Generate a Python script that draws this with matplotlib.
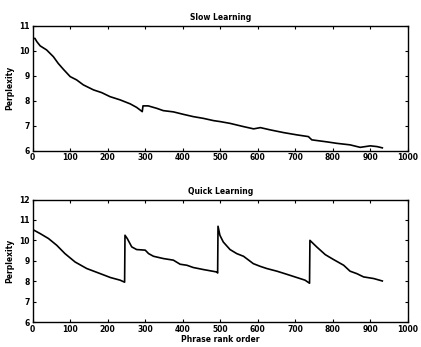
import numpy as np
import matplotlib
matplotlib.use('Agg')
import matplotlib.pyplot as plt

# Slow learning curve (phrase rank order, perplexity)
slow_x = [0, 6, 11, 20, 37, 55, 68, 82, 100, 117, 135, 162, 184, 206, 233, 260,
          277, 292, 294, 308, 331, 348, 375, 402, 428, 455, 482, 500, 526, 562,
          589, 607, 633, 669, 704, 735, 744, 784, 811, 846, 873, 900, 918, 932]
slow_y = [10.49, 10.49, 10.36, 10.19, 10.03, 9.76, 9.49, 9.25, 8.96, 8.83, 8.63,
          8.43, 8.32, 8.16, 8.03, 7.87, 7.73, 7.56, 7.79, 7.79, 7.69, 7.60, 7.55,
          7.45, 7.36, 7.29, 7.20, 7.16, 7.09, 6.96, 6.87, 6.92, 6.83, 6.72, 6.63,
          6.56, 6.43, 6.35, 6.29, 6.23, 6.13, 6.19, 6.16, 6.11]

# Quick learning curve
quick_x = [0, 20, 42, 64, 86, 113, 144, 180, 207, 233, 245, 246, 252, 264, 277,
           300, 309, 322, 348, 375, 393, 411, 428, 455, 491, 493, 494, 499, 508,
           526, 544, 562, 588, 606, 624, 651, 677, 704, 726, 738, 739, 757, 780,
           802, 829, 846, 864, 882, 909, 932]
quick_y = [10.53, 10.33, 10.09, 9.76, 9.35, 8.94, 8.62, 8.37, 8.18, 8.05, 7.95,
           10.25, 10.09, 9.68, 9.55, 9.52, 9.35, 9.22, 9.11, 9.03, 8.83, 8.78,
           8.67, 8.57, 8.45, 8.40, 10.69, 10.25, 9.92, 9.55, 9.35, 9.22, 8.86,
           8.73, 8.62, 8.49, 8.34, 8.18, 8.05, 7.90, 10.0, 9.68, 9.30, 9.06,
           8.78, 8.49, 8.37, 8.21, 8.13, 8.01]

x_ticks = list(range(0, 1001, 100))

plt.rcParams['font.family'] = ['DejaVu Sans']
plt.rcParams['font.weight'] = 'bold'

fig = plt.figure(figsize=(4.21, 3.47), dpi=100)
ax1 = fig.add_axes([0.0777, 0.566, 0.891, 0.360])
ax2 = fig.add_axes([0.0777, 0.072, 0.891, 0.353])

for ax, x, y, ylim, title in [(ax1, slow_x, slow_y, (6, 11), 'Slow Learning'),
                              (ax2, quick_x, quick_y, (6, 12), 'Quick Learning')]:
    ax.plot(x, y, '-k', linewidth=1.2)
    ax.set_xlim(0, 1000)
    ax.set_ylim(*ylim)
    ax.set_xticks(x_ticks)
    ax.set_yticks(range(ylim[0], ylim[1] + 1))
    ax.tick_params(direction='in', top=True, right=True, length=2.5, width=0.8,
                   labelsize=5.5, pad=2)
    for s in ax.spines.values():
        s.set_linewidth(1.0)
    ax.set_title(title, fontsize=5.5, fontweight='bold', pad=4)
    ax.set_ylabel('Perplexity', fontsize=5.5, fontweight='bold', labelpad=4)

ax2.set_xlabel('Phrase rank order', fontsize=5.5, fontweight='bold', labelpad=1)

plt.savefig('out.png', dpi=100)
